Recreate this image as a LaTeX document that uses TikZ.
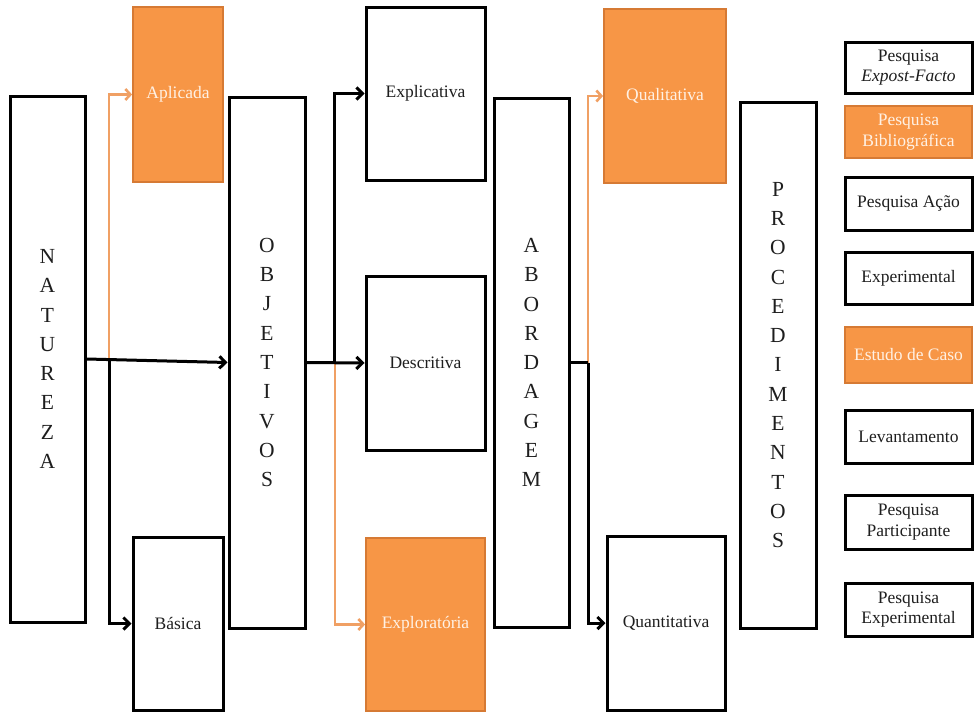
\documentclass[tikz,border=0pt]{standalone}
\usepackage{fontspec}
\setmainfont{Liberation Serif}
\usetikzlibrary{arrows.meta}
\definecolor{accent}{RGB}{247,150,70}
\definecolor{accentedge}{RGB}{214,122,52}
\definecolor{accentline}{RGB}{240,160,100}
\definecolor{accenttext}{RGB}{255,241,228}
\definecolor{ink}{RGB}{30,30,30}

\begin{document}
\begin{tikzpicture}[x=1pt,y=-1pt,
  box/.style={draw=black, line width=3pt, fill=white, inner sep=0pt,
    text=ink, font=\fontsize{17.5}{20.5}\selectfont, align=center},
  hot/.style={box, draw=accentedge, line width=1.8pt, fill=accent, text=accenttext},
  tall/.style={box, font=\fontsize{21.5}{29.3}\selectfont},
  wire/.style={draw=black, line width=3pt},
  wirearrow/.style={wire, -{Straight Barb[length=6pt,width=12pt]}},
  hotwire/.style={draw=accentline, line width=2.6pt, -{Straight Barb[length=5pt,width=11pt]}},
  sz/.style 2 args={minimum width=#1, minimum height=#2},
]
\useasboundingbox (0,0) rectangle (974,712);

% main category columns
\node[tall, sz={75pt}{526pt}] (nat) at (47.5,359) {N\\A\\T\\U\\R\\E\\Z\\A};
\node[tall, sz={76pt}{531pt}] (obj) at (267,362.5) {O\\B\\J\\E\\T\\I\\V\\O\\S};
\node[tall, sz={75pt}{529pt}] (abo) at (531.5,362.5) {A\\B\\O\\R\\D\\A\\G\\E\\M};
\node[tall, sz={76pt}{526pt}] (proc) at (778,365) {P\\R\\O\\C\\E\\D\\I\\M\\E\\N\\T\\O\\S};

% natureza
\node[hot, sz={90pt}{175pt}] (apl) at (178,94.5) {Aplicada};
\node[box, sz={90pt}{173pt}] (bas) at (178,623.5) {Básica};

% objetivos
\node[box, sz={119pt}{173pt}] (expl) at (425.5,93.5) {Explicativa};
\node[box, sz={119pt}{174pt}] (desc) at (425.5,363) {Descritiva};
\node[hot, sz={119pt}{173pt}] (explo) at (425.5,624.5) {Exploratória};

% abordagem
\node[hot, sz={122pt}{174pt}] (qual) at (665,96) {Qualitativa};
\node[box, sz={118pt}{174pt}] (quant) at (666,623) {Quantitativa};

% procedimentos
\node[box, sz={127pt}{51pt}] (p1) at (908.5,67.5) {Pesquisa\\\textit{Expost-Facto}};
\node[hot, sz={127pt}{52pt}] (p2) at (908.5,132) {Pesquisa\\Bibliográfica};
\node[box, sz={127pt}{53pt}] (p3) at (908.5,203.5) {Pesquisa Ação};
\node[box, sz={127pt}{52pt}] (p4) at (908.5,278) {Experimental};
\node[hot, sz={127pt}{56pt}] (p5) at (908.5,355) {Estudo de Caso};
\node[box, sz={127pt}{53pt}] (p6) at (908.5,436.5) {Levantamento};
\node[box, sz={127pt}{54pt}] (p7) at (908.5,522) {Pesquisa\\Participante};
\node[box, sz={127pt}{53pt}] (p8) at (908.5,609.5) {Pesquisa\\Experimental};

% branch points
\path (nat.east) -- (obj.west) coordinate[pos=0.16] (j1);
\path (obj.east) -- (desc.west) coordinate[pos=0.49] (j2);
\coordinate (j3) at (588,362.5);

% connectors
\draw[hotwire] (j1) |- (apl.west);
\draw[wirearrow] (j1) |- (bas.west);
\draw[wirearrow] (nat.east) -- (obj.west);

\draw[hotwire] (j2) |- (explo.west);
\draw[wirearrow] (j2) |- (expl.west);
\draw[wirearrow] (obj.east) -- (desc.west);

\draw[hotwire] (j3) |- (qual.west);
\draw[wirearrow] (j3) |- (quant.west);
\draw[wire] (abo.east) -- (j3);
\end{tikzpicture}
\end{document}
